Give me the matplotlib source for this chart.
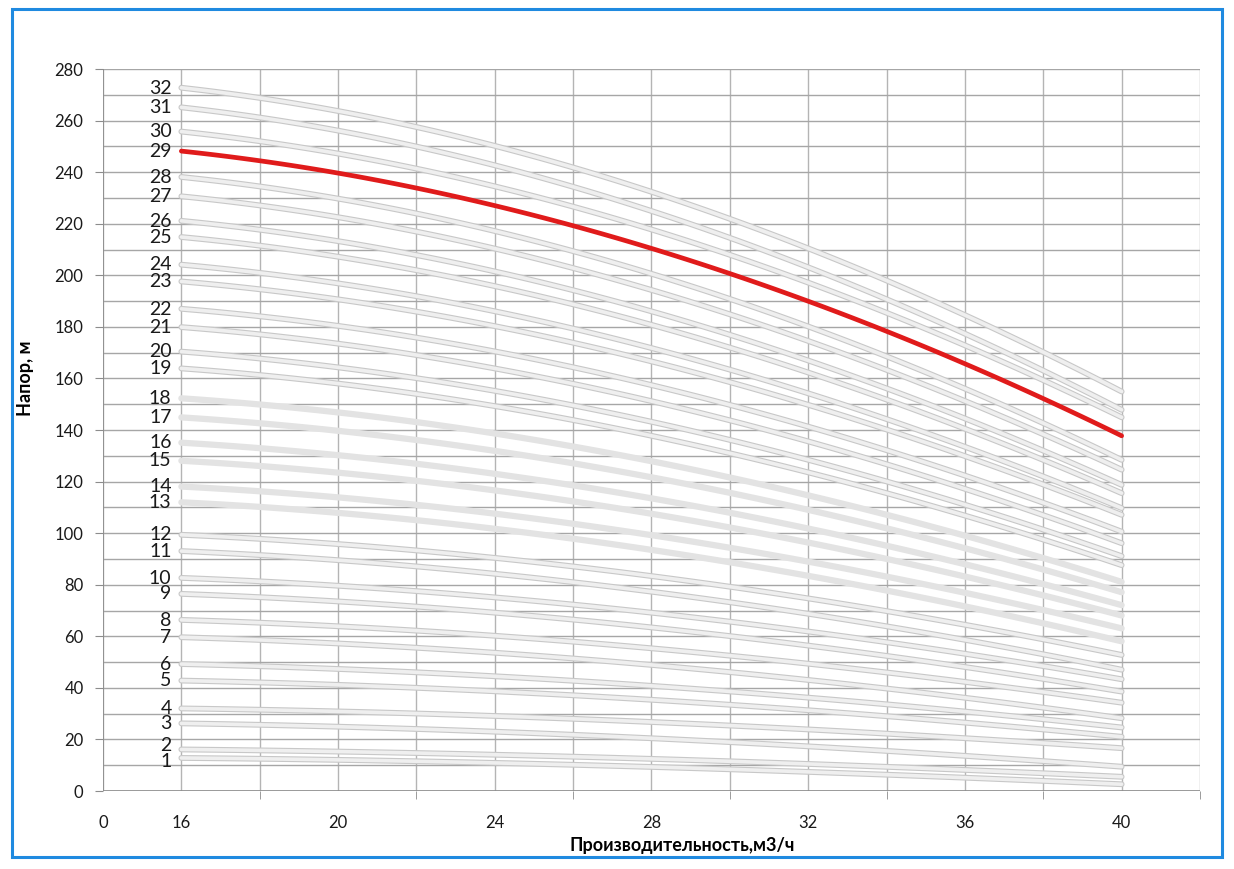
import numpy as np
from matplotlib import pyplot as plt
from matplotlib.patches import Rectangle

# flow points, m3/h
flow = [16, 20, 24, 28, 32, 36, 40]

# head (m) for each stage count at the flow points above
heads = {
    1: [12.8, 12.1, 10.9, 9.3, 7.4, 5.2, 2.6],
    2: [16.1, 15.3, 14.1, 12.4, 10.5, 8.2, 5.5],
    3: [26.2, 25.0, 23.0, 20.4, 17.3, 13.7, 9.4],
    4: [32.0, 30.9, 29.1, 26.7, 23.9, 20.5, 16.6],
    5: [42.8, 41.2, 38.7, 35.3, 31.3, 26.6, 21.0],
    6: [49.2, 47.4, 44.5, 40.7, 36.2, 30.9, 24.6],
    7: [59.6, 57.3, 53.6, 48.8, 43.1, 36.2, 28.2],
    8: [66.3, 64.0, 60.2, 55.2, 49.4, 42.4, 34.2],
    9: [76.4, 73.6, 69.2, 63.3, 56.4, 48.2, 38.5],
    10: [82.6, 79.7, 75.1, 69.0, 61.9, 53.3, 43.3],
    11: [93.0, 89.6, 84.3, 77.1, 68.8, 58.7, 47.0],
    12: [99.3, 95.9, 90.4, 83.2, 74.7, 64.6, 52.7],
    13: [111.9, 108.0, 101.7, 93.3, 83.5, 71.7, 58.0],
    14: [118.0, 114.0, 107.6, 99.0, 89.0, 77.0, 63.0],
    15: [128.0, 123.6, 116.6, 107.3, 96.4, 83.3, 68.0],
    16: [135.0, 130.4, 123.0, 113.3, 101.8, 88.1, 72.0],
    17: [144.8, 139.9, 131.9, 121.4, 109.1, 94.3, 77.0],
    18: [152.2, 147.0, 138.7, 127.6, 114.7, 99.2, 81.0],
    19: [163.8, 158.2, 149.3, 137.5, 123.6, 107.0, 87.5],
    20: [170.3, 164.5, 155.2, 142.9, 128.5, 111.2, 91.0],
    21: [179.8, 173.7, 163.9, 150.9, 135.6, 117.4, 96.0],
    22: [186.9, 180.6, 170.5, 157.1, 141.4, 122.5, 100.5],
    23: [197.5, 190.9, 180.3, 166.3, 149.8, 130.1, 107.0],
    24: [204.0, 197.1, 186.1, 171.4, 154.3, 133.7, 109.6],
    25: [214.7, 207.5, 195.8, 180.4, 162.4, 140.7, 115.4],
    26: [221.0, 213.5, 201.5, 185.7, 167.0, 144.7, 118.6],
    27: [230.5, 222.8, 210.4, 193.9, 174.6, 151.5, 124.5],
    28: [238.0, 230.0, 217.2, 200.2, 180.2, 156.3, 128.3],
    29: [248.0, 240.0, 227.0, 210.0, 190.0, 166.0, 137.6],
    30: [255.6, 247.5, 234.5, 217.4, 197.2, 173.1, 144.8],
    31: [265.0, 256.4, 242.7, 224.5, 203.2, 177.6, 147.7],
    32: [272.6, 264.0, 250.2, 232.0, 210.5, 184.8, 154.8],
}
highlight = 29  # selected pump, drawn in red
plain_stages = [13, 14, 15, 16, 17, 18]  # these have no darker edge in the original

xtick_pos = [14, 16, 20, 24, 28, 32, 36, 40]
xtick_labels = ["0", "16", "20", "24", "28", "32", "36", "40"]

plt.rcParams['font.family'] = ['Lato', 'DejaVu Sans']

fig = plt.figure(figsize=(12.34, 8.69), dpi=100)
ax = fig.add_axes([103/1234, 1 - 791/869, 1097/1234, 722/869])
ax.set_xlim(14, 42)
ax.set_ylim(0, 280)

# grid: every 2 m3/h and every 10 m
for gx in np.arange(14, 43, 2):
    ax.axvline(gx, color="#b4b4b4", lw=1.0, zorder=0)
for gy in np.arange(0, 281, 10):
    ax.axhline(gy, color="#a6a6a6", lw=1.0, zorder=0)

xs = np.linspace(16, 40, 120)
for n, h in heads.items():
    # smooth line through the read points, like the spreadsheet's smoothed lines
    ys = np.polyval(np.polyfit(flow, h, 3), xs)
    if n == highlight:
        ax.plot(xs, ys, color="#e01b1b", lw=3.4, solid_capstyle="round", zorder=5)
    elif n in plain_stages:
        ax.plot(xs, ys, color="#e3e3e3", lw=4.5, solid_capstyle="round", zorder=3)
    else:
        ax.plot(xs, ys, color="#c8c8c8", lw=4.2, solid_capstyle="round", zorder=3)
        ax.plot(xs, ys, color="#efefef", lw=2.6, solid_capstyle="round", zorder=4)
    nudge = {1: 2.5, 2: -3.0}.get(n, 0)
    ax.annotate(str(n), (15.75, h[0]), xytext=(0, -nudge), textcoords="offset points",
                ha="right", va="center", fontsize=14, color="#1a1a1a")

for s in ax.spines.values():
    s.set_visible(False)
ax.axvline(14, color="#8c8c8c", lw=1.2, zorder=1)
ax.axhline(0, color="#8c8c8c", lw=1.2, zorder=1)

ax.set_xticks(xtick_pos, xtick_labels)
ax.set_xticks(np.arange(14, 43, 4), minor=True)
ax.tick_params(axis="x", which="major", length=0, pad=17, labelsize=12, colors="#1a1a1a")
ax.tick_params(axis="x", which="minor", length=6, direction="out", color="#8c8c8c")

ax.set_yticks(np.arange(0, 281, 20))
ax.tick_params(axis="y", which="major", length=6, direction="out", color="#8c8c8c",
               labelsize=12, pad=8, labelcolor="#1a1a1a")

ax.set_xlabel("Производительность,м3/ч", fontsize=13, fontweight="bold")
ax.xaxis.set_label_coords(0.528, -0.064)
ax.set_ylabel("Напор, м", fontsize=13, fontweight="bold")
ax.yaxis.set_label_coords(-0.063, 0.572)

# blue frame around the whole chart
fig.patches.append(Rectangle((12/1234, 1 - 857/869), 1210/1234, 848/869,
                             transform=fig.transFigure, fill=False,
                             edgecolor="#1f8ae0", lw=2.2))

fig.savefig("out.png", dpi=100)
